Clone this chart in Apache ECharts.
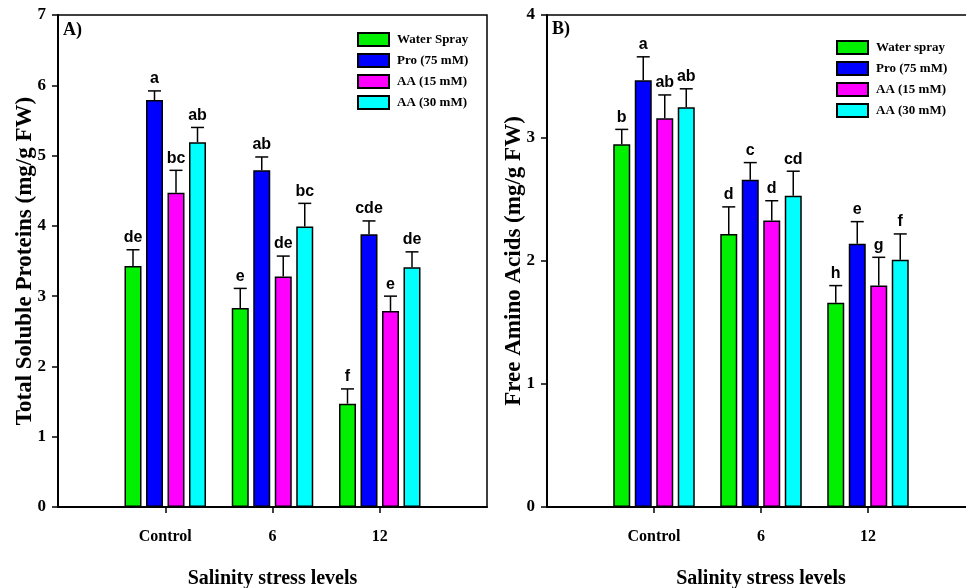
<!DOCTYPE html>
<html>
<head>
<meta charset="utf-8">
<script src="https://cdn.jsdelivr.net/npm/echarts@6/dist/echarts.min.js"></script>
<style>html,body{margin:0;padding:0;background:#fff;}#c{width:966px;height:588px;}</style>
</head>
<body>
<div id="c"></div>
<script>
// ---- data ----
var categories = ['Control', '6', '12'];
var seriesNamesA = ['Water Spray', 'Pro (75 mM)', 'AA (15 mM)', 'AA (30 mM)'];
var seriesNamesB = ['Water spray', 'Pro (75 mM)', 'AA (15 mM)', 'AA (30 mM)'];

var tspWater = [3.43, 2.83, 1.47];
var tspPro   = [5.79, 4.79, 3.88];
var tspAA15  = [4.47, 3.28, 2.79];
var tspAA30  = [5.19, 3.99, 3.41];
var tspWaterErr = [0.23, 0.28, 0.21];
var tspProErr   = [0.13, 0.19, 0.19];
var tspAA15Err  = [0.32, 0.29, 0.21];
var tspAA30Err  = [0.21, 0.33, 0.22];
var tspWaterLet = ['de', 'e', 'f'];
var tspProLet   = ['a', 'ab', 'cde'];
var tspAA15Let  = ['bc', 'de', 'e'];
var tspAA30Let  = ['ab', 'bc', 'de'];

var faaWater = [2.95, 2.22, 1.66];
var faaPro   = [3.47, 2.66, 2.14];
var faaAA15  = [3.16, 2.33, 1.80];
var faaAA30  = [3.25, 2.53, 2.01];
var faaWaterErr = [0.12, 0.22, 0.14];
var faaProErr   = [0.19, 0.14, 0.18];
var faaAA15Err  = [0.19, 0.16, 0.23];
var faaAA30Err  = [0.15, 0.20, 0.21];
var faaWaterLet = ['b', 'd', 'h'];
var faaProLet   = ['a', 'c', 'e'];
var faaAA15Let  = ['ab', 'd', 'g'];
var faaAA30Let  = ['ab', 'cd', 'f'];

var yTicksA = [0, 1, 2, 3, 4, 5, 6, 7];
var yTicksB = [0, 1, 2, 3, 4];

// ---- styling ----
var colors = ['#00F000', '#0000FF', '#FF00FF', '#00FFFF'];
var serif = '"Liberation Serif", "Times New Roman", serif';
var sans = '"Liberation Sans", Arial, sans-serif';
var BAR_W = 17, BAR_GAP = 4.5;

// axis category data padded so categories sit at the inner ticks
var axisCats = [''].concat(categories).concat(['']);
function pad(arr) { return ['-'].concat(arr).concat(['-']); }

function xAxisCfg(gridIndex) {
  return {
    type: 'category', gridIndex: gridIndex, data: axisCats, boundaryGap: false,
    axisLine: { lineStyle: { color: '#000', width: 2 } },
    axisTick: { show: true, length: 6, lineStyle: { color: '#000', width: 1.5 },
      interval: function (i, v) { return v !== ''; } },
    axisLabel: { color: '#000', fontFamily: serif, fontWeight: 'bold', fontSize: 16, margin: 22,
      interval: function (i, v) { return v !== ''; } },
    splitLine: { show: false },
    name: 'Salinity stress levels', nameLocation: 'middle', nameGap: 62,
    nameTextStyle: { color: '#000', fontFamily: serif, fontWeight: 'bold', fontSize: 20 }
  };
}
function yAxisCfg(gridIndex, max, name) {
  return {
    type: 'value', gridIndex: gridIndex, min: 0, max: max, interval: 1,
    axisLine: { show: true, lineStyle: { color: '#000', width: 2 } },
    axisTick: { show: true, length: 6, lineStyle: { color: '#000', width: 1.5 } },
    axisLabel: { color: '#000', fontFamily: serif, fontWeight: 'bold', fontSize: 17, margin: 12 },
    splitLine: { show: false },
    name: name, nameLocation: 'middle', nameGap: 21, nameMoveOverlap: false,
    nameTextStyle: { color: '#000', fontFamily: serif, fontWeight: 'bold', fontSize: 23 }
  };
}

function barSeries(name, vals, idx, axisIdx) {
  return {
    type: 'bar', name: name, xAxisIndex: axisIdx, yAxisIndex: axisIdx,
    data: pad(vals), barWidth: BAR_W, barGap: (BAR_GAP / BAR_W * 100) + '%',
    itemStyle: { color: colors[idx], borderColor: '#000', borderWidth: 1.5 },
    emphasis: { disabled: true }, animation: false, z: 2
  };
}

function errSeries(sets, axisIdx) {
  var data = [];
  sets.forEach(function (s, si) {
    s[0].forEach(function (v, ci) {
      data.push([ci + 1, v, v + s[1][ci], s[2][ci], si]);
    });
  });
  return {
    type: 'custom', xAxisIndex: axisIdx, yAxisIndex: axisIdx, data: data, z: 5,
    animation: false, silent: true,
    encode: { x: 0, y: [1, 2] },
    renderItem: function (params, api) {
      var ci = api.value(0), v = api.value(1), top = api.value(2), si = api.value(4);
      var letter = data[params.dataIndex][3];
      var off = (si - 1.5) * (BAR_W + BAR_GAP);
      var p0 = api.coord([ci, v]);
      var p1 = api.coord([ci, top]);
      var x = p0[0] + off;
      return {
        type: 'group',
        children: [
          { type: 'line', shape: { x1: x, y1: p0[1], x2: x, y2: p1[1] },
            style: { stroke: '#000', lineWidth: 1.5 } },
          { type: 'line', shape: { x1: x - 6.5, y1: p1[1], x2: x + 6.5, y2: p1[1] },
            style: { stroke: '#000', lineWidth: 1.5 } },
          { type: 'text', x: x, y: p1[1] - 4,
            style: { text: letter, fill: '#000', font: 'bold 16px ' + sans,
              textAlign: 'center', textVerticalAlign: 'bottom' } }
        ]
      };
    }
  };
}

function legendCfg(names, left, top) {
  return {
    data: names, orient: 'vertical', left: left, top: top,
    itemWidth: 31, itemHeight: 13, itemGap: 6, icon: 'rect',
    textStyle: { color: '#000', fontFamily: serif, fontWeight: 'bold', fontSize: 13, padding: [0, 0, 0, 3] },
    selectedMode: false
  };
}

var chart = echarts.init(document.getElementById('c'), null, { renderer: 'canvas' });
var option = {
  backgroundColor: '#fff',
  animation: false,
  grid: [
    { left: 58, top: 15, width: 429, height: 492, show: true, borderColor: '#000', borderWidth: 1.5,
      backgroundColor: 'transparent', containLabel: false, outerBoundsMode: 'none' },
    { left: 547, top: 15, width: 428, height: 492, show: true, borderColor: '#000', borderWidth: 1.5,
      backgroundColor: 'transparent', containLabel: false, outerBoundsMode: 'none' }
  ],
  xAxis: [xAxisCfg(0), xAxisCfg(1)],
  yAxis: [
    yAxisCfg(0, yTicksA[yTicksA.length - 1], 'Total Soluble Proteins (mg/g FW)'),
    yAxisCfg(1, yTicksB[yTicksB.length - 1], 'Free Amino Acids (mg/g FW)')
  ],
  legend: [legendCfg(seriesNamesA, 352, 27), legendCfg(seriesNamesB, 831, 35)],
  graphic: [
    { type: 'text', left: 63, top: 21, style: { text: 'A)', font: 'bold 18px ' + serif, fill: '#000' } },
    { type: 'text', left: 552, top: 20, style: { text: 'B)', font: 'bold 18px ' + serif, fill: '#000' } }
  ],
  series: [
    barSeries(seriesNamesA[0], tspWater, 0, 0),
    barSeries(seriesNamesA[1], tspPro, 1, 0),
    barSeries(seriesNamesA[2], tspAA15, 2, 0),
    barSeries(seriesNamesA[3], tspAA30, 3, 0),
    errSeries([[tspWater, tspWaterErr, tspWaterLet], [tspPro, tspProErr, tspProLet],
               [tspAA15, tspAA15Err, tspAA15Let], [tspAA30, tspAA30Err, tspAA30Let]], 0),
    barSeries(seriesNamesB[0], faaWater, 0, 1),
    barSeries(seriesNamesB[1], faaPro, 1, 1),
    barSeries(seriesNamesB[2], faaAA15, 2, 1),
    barSeries(seriesNamesB[3], faaAA30, 3, 1),
    errSeries([[faaWater, faaWaterErr, faaWaterLet], [faaPro, faaProErr, faaProLet],
               [faaAA15, faaAA15Err, faaAA15Let], [faaAA30, faaAA30Err, faaAA30Let]], 1)
  ]
};
chart.setOption(option);
</script>
</body>
</html>
